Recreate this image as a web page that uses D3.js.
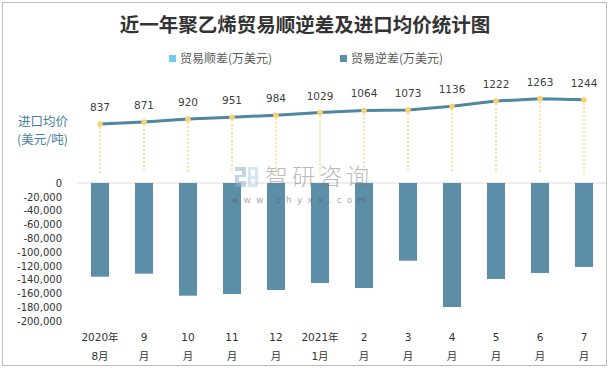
<!DOCTYPE html>
<html><head><meta charset="utf-8">
<script src="https://cdn.jsdelivr.net/npm/d3@7"></script>
<style>html,body{margin:0;padding:0;background:#fff;}svg{display:block;}</style>
</head><body>
<script>
const monthLine1 = ["2020年","9","10","11","12","2021年","2","3","4","5","6","7"];
const monthLine2 = ["8月","月","月","月","月","1月","月","月","月","月","月","月"];
const avgPrice = [837,871,920,951,984,1029,1064,1073,1136,1222,1263,1244];
const tradeDeficit = [-135800,-131400,-163300,-160900,-155100,-144900,-152200,-112600,-179700,-139100,-130400,-121700];
const tradeSurplus = [0,0,0,0,0,0,0,0,0,0,0,0];
const yTicks = [0,-20000,-40000,-60000,-80000,-100000,-120000,-140000,-160000,-180000,-200000];
const legendLabels = ["贸易顺差(万美元)","贸易逆差(万美元)"];

const W = 611, H = 370;
const svg = d3.select("body").append("svg").attr("width", W).attr("height", H);
const numFont = "'DejaVu Sans','Noto Sans CJK SC',sans-serif";
const cjkFont = "'Noto Sans CJK SC','DejaVu Sans',sans-serif";

// outer border
svg.append("rect").attr("x",2.5).attr("y",2.5).attr("width",604).attr("height",363)
  .attr("fill","#fff").attr("stroke","#bdbdbd").attr("stroke-width",1);

// title
svg.append("text").attr("x",305).attr("y",32).attr("text-anchor","middle")
  .attr("font-family",cjkFont).attr("font-weight","bold").attr("font-size",19.5)
  .attr("fill","#333").text("近一年聚乙烯贸易顺逆差及进口均价统计图");

// legend
const legColors = ["#6fcdf0","#5b8fa8"];
const legX = [169, 340];
legendLabels.forEach((t,i)=>{
  svg.append("rect").attr("x",legX[i]).attr("y",55).attr("width",7).attr("height",7).attr("fill",legColors[i]);
  svg.append("text").attr("x",legX[i]+11).attr("y",63).attr("font-family",cjkFont).attr("font-size",12)
    .attr("fill","#595959").text(t);
});

// scales
const x = d3.scaleBand().domain(d3.range(monthLine1.length)).range([78,606]).padding(0);
const barW = 18;
const yBar = d3.scaleLinear().domain([-200000,0]).range([321,183]);
const yLine = d3.scaleLinear().domain([0,1400]).range([173.7,90.5]);
const cx = i => x(i) + x.bandwidth()/2;

// zero gridline
svg.append("line").attr("x1",77).attr("x2",606).attr("y1",yBar(0)).attr("y2",yBar(0))
  .attr("stroke","#d9d9d9").attr("stroke-width",1);

// y axis
const yAxis = d3.axisLeft(yBar).tickValues(yTicks).tickSize(0).tickPadding(0)
  .tickFormat(d=>d3.format(",")(d).replace("−","-"));
const gy = svg.append("g").attr("transform","translate(62,0)").call(yAxis);
gy.select(".domain").remove();
gy.selectAll("text").attr("font-family",numFont).attr("font-size",10).attr("fill","#333");

// bars (deficit)
svg.append("g").selectAll("rect").data(tradeDeficit).join("rect")
  .attr("x",(d,i)=>cx(i)-barW/2).attr("width",barW)
  .attr("y",d=>yBar(Math.max(0,d))).attr("height",d=>Math.abs(yBar(d)-yBar(0)))
  .attr("fill","#5b8fa8");
// surplus bars (zero)
svg.append("g").selectAll("rect").data(tradeSurplus).join("rect")
  .attr("x",(d,i)=>cx(i)-barW/2).attr("width",barW)
  .attr("y",d=>yBar(Math.max(0,d))).attr("height",d=>Math.abs(yBar(d)-yBar(0)))
  .attr("fill","#6fcdf0");

// dotted drop lines
svg.append("g").selectAll("line").data(avgPrice).join("line")
  .attr("x1",(d,i)=>cx(i)).attr("x2",(d,i)=>cx(i))
  .attr("y1",d=>yLine(d)+3).attr("y2",173)
  .attr("stroke","#f7d68a").attr("stroke-width",1.5).attr("stroke-dasharray","2,2");

// line
const line = d3.line().x((d,i)=>cx(i)).y(d=>yLine(d));
svg.append("path").datum(avgPrice).attr("d",line).attr("fill","none")
  .attr("stroke","#4f86a0").attr("stroke-width",3);

// dots
svg.append("g").selectAll("circle").data(avgPrice).join("circle")
  .attr("cx",(d,i)=>cx(i)).attr("cy",d=>yLine(d)).attr("r",2.8).attr("fill","#f7d270");

// point labels
svg.append("g").selectAll("text").data(avgPrice).join("text")
  .attr("x",(d,i)=>cx(i)).attr("y",d=>yLine(d)-13).attr("text-anchor","middle")
  .attr("font-family",numFont).attr("font-size",10.5).attr("fill","#404040").text(d=>d);

// left label
svg.append("text").attr("x",18).attr("y",126).attr("font-family",cjkFont).attr("font-size",12.5)
  .attr("fill","#4a7f9b").text("进口均价");
svg.append("text").attr("x",17).attr("y",144).attr("font-family",cjkFont).attr("font-size",12.5)
  .attr("fill","#4a7f9b").text("(美元/吨)");

// x labels
const gx = svg.append("g");
monthLine1.forEach((t,i)=>{
  gx.append("text").attr("x",cx(i)).attr("y",341).attr("text-anchor","middle")
    .attr("font-family",numFont).attr("font-size",10.5).attr("fill","#333").text(t);
  gx.append("text").attr("x",cx(i)).attr("y",360).attr("text-anchor","middle")
    .attr("font-family",numFont).attr("font-size",10.5).attr("fill","#333").text(monthLine2[i]);
});

// watermark (on top)
const wm = svg.append("g").attr("opacity",0.5);
wm.append("path").attr("d","M235,167 H246 V177 H239 V181 H246 V187 H235 V175 H242 V171 H235 Z").attr("fill","#8aa9c8");
wm.append("path").attr("d","M248,167 H258 V187 H248 Z M251,170 V176 H255 V170 Z M251,179 V184 H255 V179 Z")
  .attr("fill","#a9cbe8").attr("fill-rule","evenodd");
wm.append("text").attr("x",265).attr("y",185).attr("font-family",cjkFont).attr("font-size",23)
  .attr("font-weight",300).attr("fill","#777").attr("letter-spacing",4).text("智研咨询");
wm.append("text").attr("x",231).attr("y",203).attr("font-family",numFont).attr("font-size",9)
  .attr("fill","#555").attr("letter-spacing",5.2).text("www.chyxx.com");
</script>
</body></html>
